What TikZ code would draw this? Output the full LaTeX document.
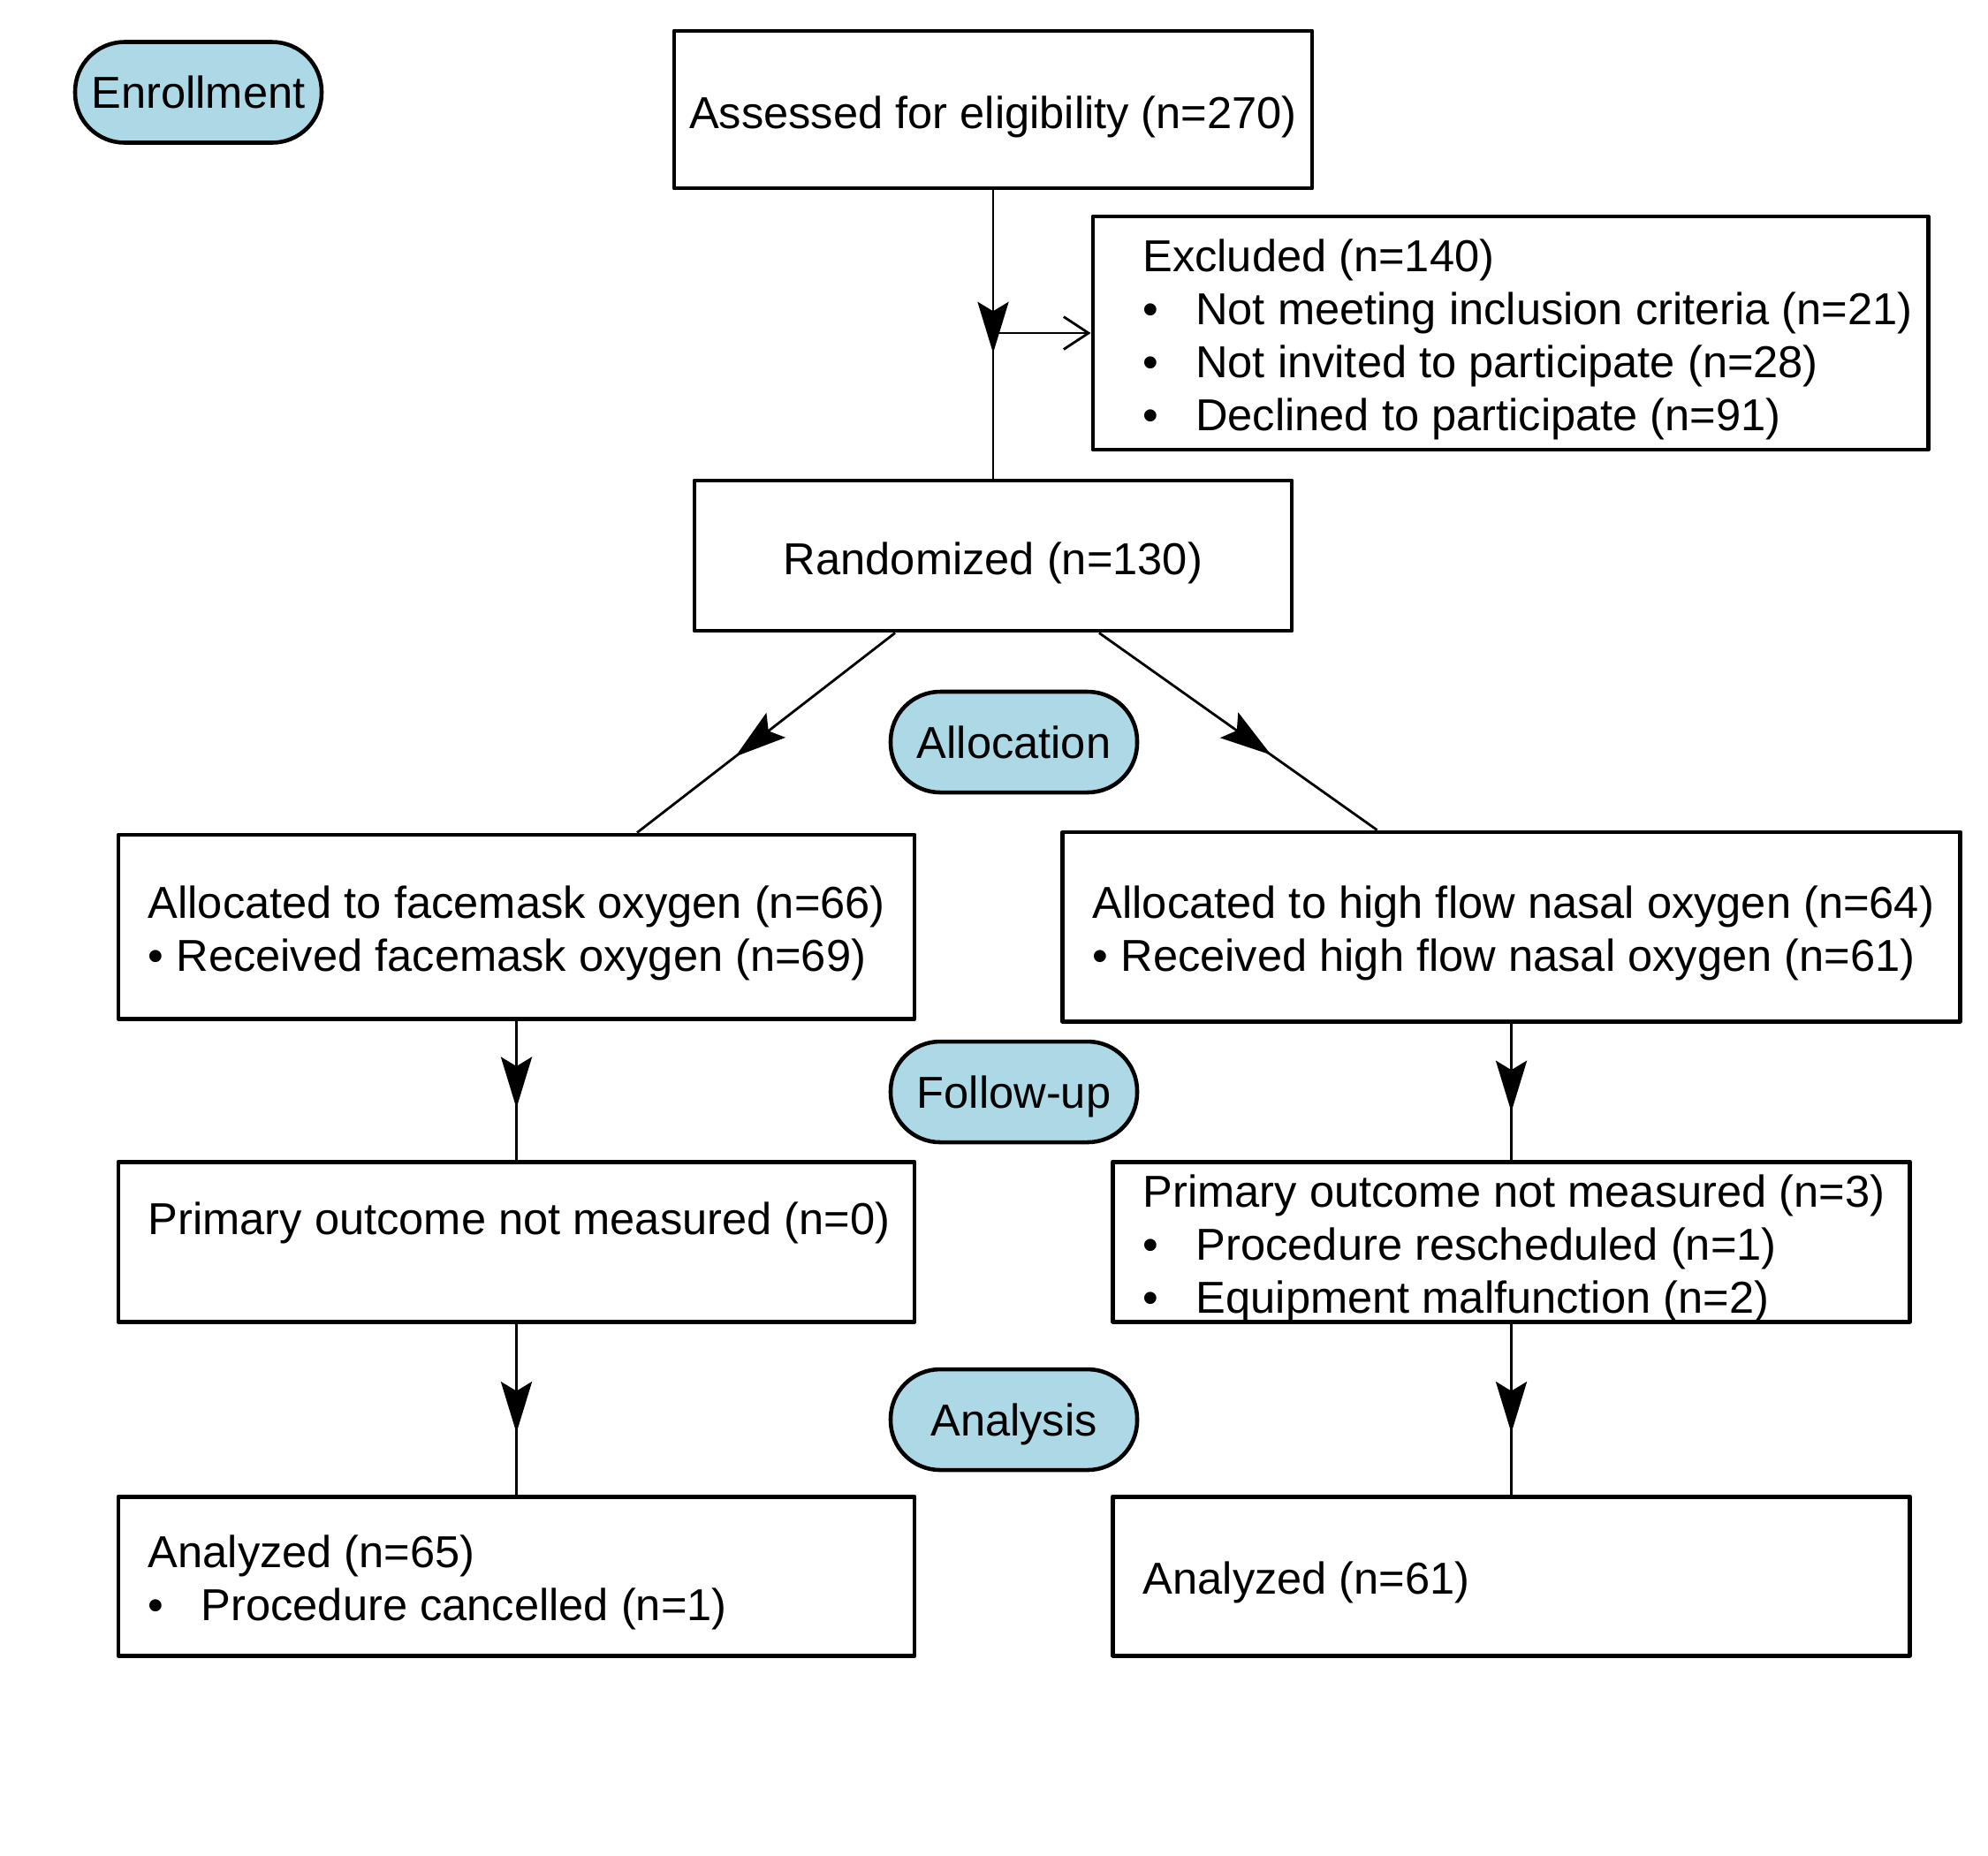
\documentclass[tikz,border=0pt]{standalone}
\usepackage{fontspec}
\setmainfont{Liberation Sans}
\usetikzlibrary{arrows.meta,decorations.markings}
\definecolor{stageblue}{RGB}{173,216,230}
\newcommand{\bul}{\makebox[0.6cm][l]{\textbullet}}
\tikzset{
  box/.style={draw, line width=1.4pt, line join=round, inner sep=0pt},
  boxtext/.style={text height=0.42cm, text depth=0pt},
  stage/.style={draw, line width=1.3pt, fill=stageblue, rounded corners=0.56cm,
    minimum width=2.79cm, minimum height=1.14cm, inner sep=0pt,
    text height=0.36cm, text depth=0pt},
  txt/.style={align=left, inner sep=0pt, anchor=west},
  flow/.style={line width=0.8pt},
  midarrow/.style={flow, postaction={decorate}, decoration={markings,
    mark=at position #1 with {\arrow{Stealth[length=16.5pt,width=10pt,inset=3pt]}}}}
}

\begin{document}
\begin{tikzpicture}[every node/.append style={font=\fontsize{14.4pt}{17.1pt}\selectfont}]
  \useasboundingbox (0,0) rectangle (22.5,-21);
  % stage labels
  \node [stage](enroll) at (2.245,-1.045) {Enrollment};
  \node [stage](alloc) at (11.475,-8.40) {Allocation};
  \node [stage](follow) at (11.475,-12.36) {Follow-up};
  \node [stage](analysis) at (11.475,-16.07) {Analysis};
  % boxes
  \node [box, boxtext, minimum width=7.22cm, minimum height=1.78cm](assessed) at (11.24,-1.24) {Assessed for eligibility (n=270)};
  \node [box, minimum width=9.45cm, minimum height=2.64cm](excluded) at (17.095,-3.77) {};
  \node [txt](excludedtxt) at ([xshift=0.58cm,yshift=-0.075cm]excluded.west) {Excluded (n=140)\\
    \bul Not meeting inclusion criteria (n=21)\\
    \bul Not invited to participate (n=28)\\
    \bul Declined to participate (n=91)};
  \node [box, boxtext, minimum width=6.76cm, minimum height=1.70cm](randomized) at (11.24,-6.29) {Randomized (n=130)};
  \node [box, minimum width=9.01cm, minimum height=2.08cm](allocfm) at (5.845,-10.49) {};
  \node [txt](allocfmtxt) at ([xshift=0.355cm,yshift=-0.075cm]allocfm.west) {Allocated to facemask oxygen (n=66)\\
    \textbullet{} Received facemask oxygen (n=69)};
  \node [box, minimum width=10.16cm, minimum height=2.14cm](allochf) at (17.105,-10.49) {};
  \node [txt](allochftxt) at ([xshift=0.36cm,yshift=-0.075cm]allochf.west) {Allocated to high flow nasal oxygen (n=64)\\
    \textbullet{} Received high flow nasal oxygen (n=61)};
  \node [box, minimum width=9.01cm, minimum height=1.81cm](primfm) at (5.845,-14.055) {};
  \node [txt](primfmtxt) at ([xshift=0.355cm,yshift=0.21cm]primfm.west) {Primary outcome not measured (n=0)};
  \node [box, minimum width=9.02cm, minimum height=1.81cm](primhf) at (17.105,-14.055) {};
  \node [txt](primhftxt) at ([xshift=0.36cm,yshift=-0.075cm]primhf.west) {Primary outcome not measured (n=3)\\
    \bul Procedure rescheduled (n=1)\\
    \bul Equipment malfunction (n=2)};
  \node [box, minimum width=9.01cm, minimum height=1.80cm](anafm) at (5.845,-17.84) {};
  \node [txt](anafmtxt) at ([xshift=0.355cm,yshift=-0.075cm]anafm.west) {Analyzed (n=65)\\
    \bul Procedure cancelled (n=1)};
  \node [box, minimum width=9.02cm, minimum height=1.80cm](anahf) at (17.105,-17.84) {};
  \node [txt](anahftxt) at ([xshift=0.36cm,yshift=-0.075cm]anahf.west) {Analyzed (n=61)};
  % connectors
  \coordinate (split) at (assessed.south |- excluded.west);
  \draw [midarrow=0.565] (assessed.south) -- (randomized.north);
  \draw [flow, -{Straight Barb[length=8pt,width=10.5pt]}] (split) -- (excluded.west);
  \draw [midarrow=0.62] ([xshift=-1.11cm]randomized.south) -- ([xshift=1.365cm]allocfm.north);
  \draw [midarrow=0.62] ([xshift=1.2cm]randomized.south) -- ([xshift=-1.52cm]allochf.north);
  \draw [midarrow=0.63] (allocfm.south) -- (primfm.north);
  \draw [midarrow=0.65] (allochf.south) -- (primhf.north);
  \draw [midarrow=0.64] (primfm.south) -- (anafm.north);
  \draw [midarrow=0.64] (primhf.south) -- (anahf.north);
\end{tikzpicture}
\end{document}
